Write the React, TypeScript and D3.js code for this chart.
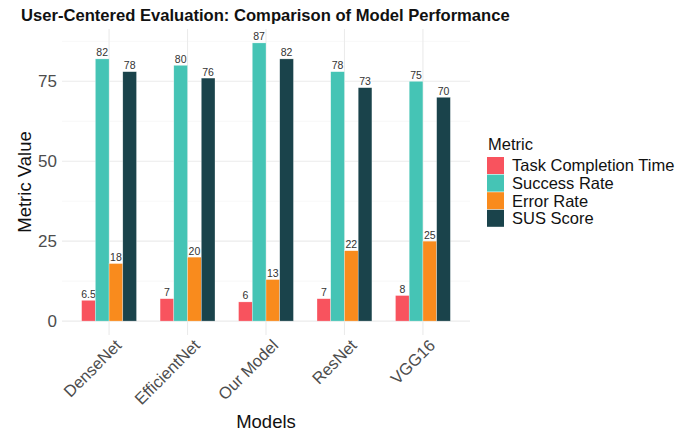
import React from "react";
import * as d3 from "d3";

// chart data
const models = ["DenseNet", "EfficientNet", "Our Model", "ResNet", "VGG16"];
const metrics = ["Task Completion Time", "Success Rate", "Error Rate", "SUS Score"];
const taskTime = [6.5, 7, 6, 7, 8];
const successRate = [82, 80, 87, 78, 75];
const errorRate = [18, 20, 13, 22, 25];
const susScore = [78, 76, 82, 73, 70];
const yTicks = [0, 25, 50, 75];
const yMinor = [12.5, 37.5, 62.5, 87.5];
const colors = ["#F8535E", "#45C4B5", "#F98B1D", "#1A434B"];

const seriesValues = [taskTime, successRate, errorRate, susScore];

const W = 690;
const H = 432;
const panel = { left: 62, right: 470, top: 29, bottom: 335 };
const font = "'Liberation Sans', Arial, Helvetica, sans-serif";

const App = () => {
  const maxVal = d3.max(seriesValues.flat()) as number;
  const pad = maxVal * 0.05;

  // ggplot-like expansion on both axes
  const y = d3.scaleLinear().domain([-pad, maxVal + pad]).range([panel.bottom, panel.top]);
  const x = d3.scaleLinear().domain([0.4, models.length + 0.6]).range([panel.left, panel.right]);

  const dodge = 0.7;
  const barW = dodge / metrics.length;
  const barPx = x(barW) - x(0);

  return (
    <svg width={W} height={H} style={{ position: "absolute", left: 0, top: 0 }} fontFamily={font}>
      <rect width={W} height={H} fill="white" />

      {/* title */}
      <text x={21} y={21} fontSize={16.6} fontWeight="bold" fill="#111">
        User-Centered Evaluation: Comparison of Model Performance
      </text>

      {/* grid */}
      {yMinor.map((t) => (
        <line key={"mn" + t} x1={panel.left} x2={panel.right} y1={y(t)} y2={y(t)} stroke="#f2f2f2" strokeWidth={0.6} />
      ))}
      {yTicks.map((t) => (
        <line key={"mj" + t} x1={panel.left} x2={panel.right} y1={y(t)} y2={y(t)} stroke="#ebebeb" strokeWidth={1.1} />
      ))}
      {models.map((m, i) => (
        <line key={"vx" + m} x1={x(i + 1)} x2={x(i + 1)} y1={panel.top} y2={panel.bottom} stroke="#ebebeb" strokeWidth={1.1} />
      ))}

      {/* bars */}
      {models.map((m, i) =>
        seriesValues.map((vals, k) => {
          const cx = x(i + 1 - dodge / 2 + k * barW);
          const v = vals[i];
          return (
            <g key={m + k}>
              <rect
                x={cx}
                y={y(v)}
                width={barPx}
                height={y(0) - y(v)}
                fill={colors[k]}
                stroke="#ffffff"
                strokeOpacity={0.6}
                strokeWidth={0.5}
              />
              <text
                x={cx + barPx / 2}
                y={y(v) - 2.5}
                textAnchor="middle"
                fontSize={10.5}
                fill="#333"
              >
                {String(v)}
              </text>
            </g>
          );
        })
      )}

      {/* y axis labels */}
      {yTicks.map((t) => (
        <text key={"yl" + t} x={57} y={y(t)} dy="0.36em" textAnchor="end" fontSize={17} fill="#4d4d4d">
          {t}
        </text>
      ))}
      <text
        transform={`translate(31,${(panel.top + panel.bottom) / 2}) rotate(-90)`}
        textAnchor="middle"
        fontSize={18.5}
        fill="#111"
      >
        Metric Value
      </text>

      {/* x axis labels */}
      {models.map((m, i) => (
        <text
          key={"xl" + m}
          transform={`translate(${x(i + 1) + 5},${panel.bottom + 3}) rotate(-45)`}
          textAnchor="end"
          dy="0.72em"
          fontSize={16.5}
          fill="#4d4d4d"
        >
          {m}
        </text>
      ))}
      <text x={(panel.left + panel.right) / 2} y={428} textAnchor="middle" fontSize={18.5} fill="#111">
        Models
      </text>

      {/* legend */}
      <text x={488} y={150} fontSize={16.5} fill="#111">
        Metric
      </text>
      {metrics.map((m, k) => (
        <g key={"lg" + m} transform={`translate(487,${157 + k * 17.6})`}>
          <rect width={17} height={17} fill={colors[k]} />
          <text x={25} y={8.5} dy="0.36em" fontSize={16.5} fill="#111">
            {m}
          </text>
        </g>
      ))}
    </svg>
  );
};

export default App;
